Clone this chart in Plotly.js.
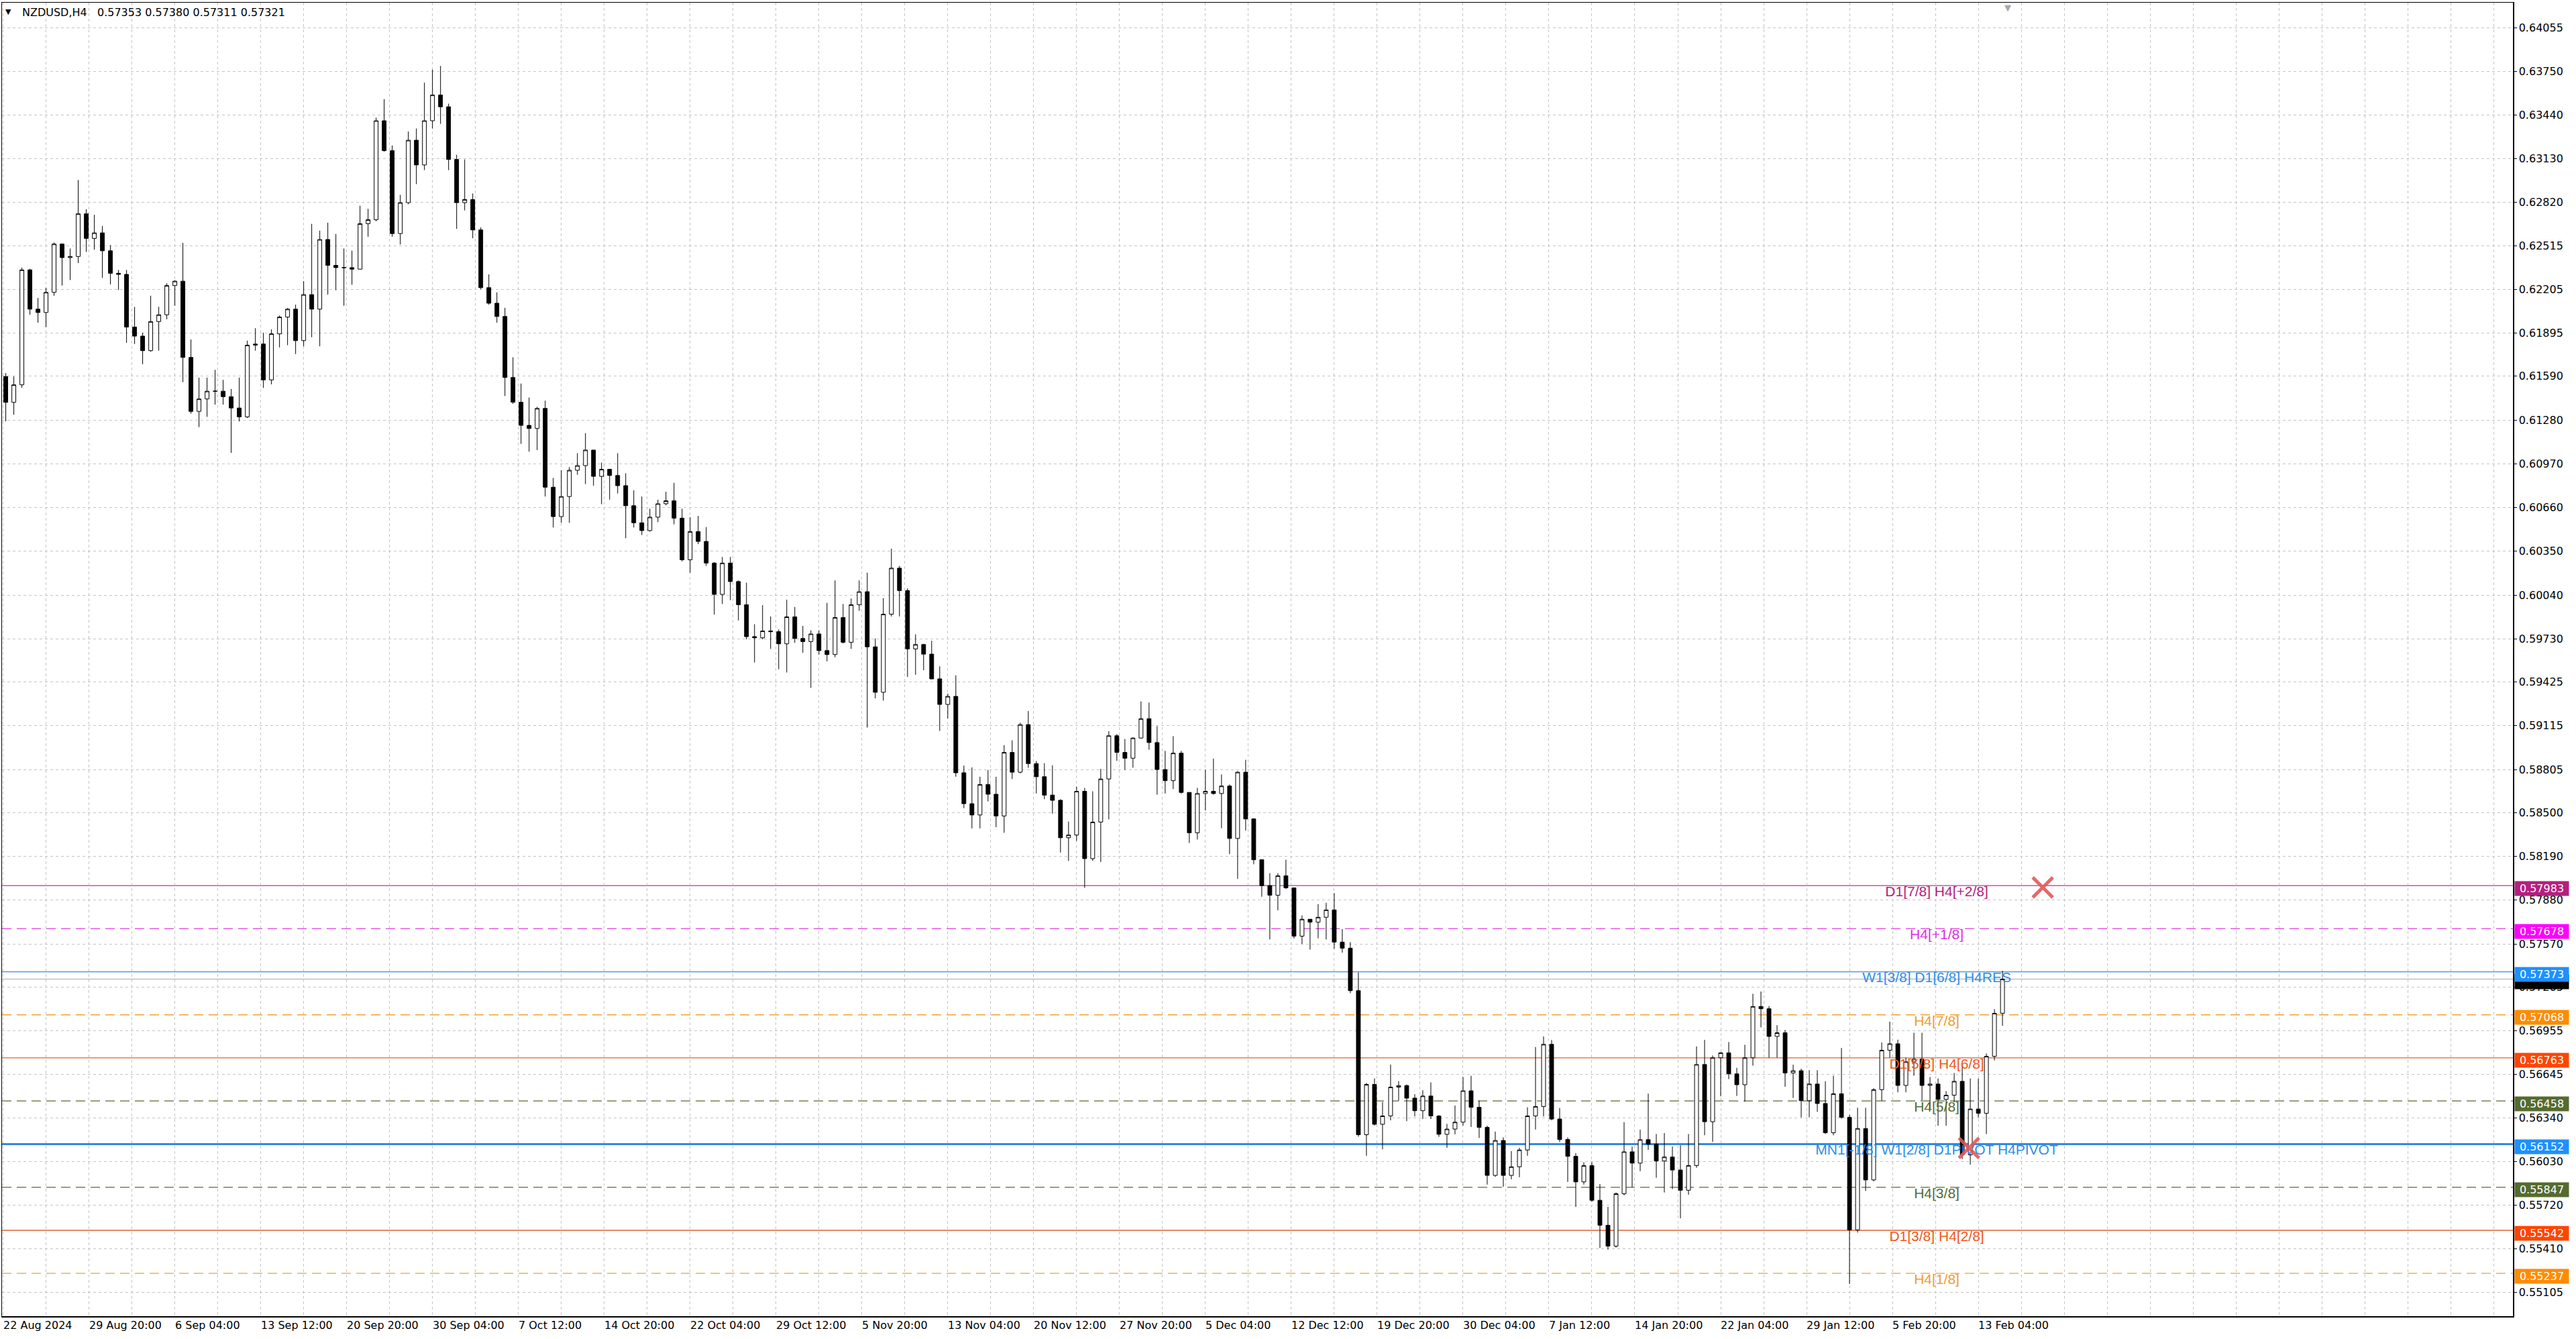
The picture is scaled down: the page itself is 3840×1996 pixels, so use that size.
<!DOCTYPE html>
<html>
<head>
<meta charset="utf-8">
<script src="https://cdn.plot.ly/plotly-3.0.1.min.js"></script>
<style>
  html, body { margin: 0; padding: 0; background: #ffffff; }
  #chart { width: 3840px; height: 1996px; }
</style>
</head>
<body>
<div id="chart"></div>
<script>
// ---------------- DATA (NZDUSD, H4, each candle = 3 consecutive H4 bars) ----------------
const symbolTitle = "NZDUSD,H4\u00a0\u00a0 0.57353 0.57380 0.57311 0.57321";
const firstOpen = 0.61588;
const closes = [
0.61405,0.61529,0.62343,0.62065,0.62041,0.62184,0.62526,0.62430,0.62438,0.62740,
0.62566,0.62605,0.62478,0.62319,0.62311,0.61938,0.61874,0.61771,0.61977,0.62025,
0.62232,0.62263,0.61723,0.61341,0.61429,0.61484,0.61484,0.61445,0.61365,0.61302,
0.61810,0.61818,0.61564,0.61890,0.62009,0.62065,0.61842,0.62168,0.62065,0.62558,
0.62375,0.62359,0.62359,0.62348,0.62670,0.62698,0.63399,0.63187,0.62600,0.62819,
0.63261,0.63086,0.63399,0.63581,0.63498,0.63125,0.62819,0.62841,0.62626,0.62217,
0.62107,0.62013,0.61581,0.61406,0.61242,0.61220,0.61362,0.60804,0.60596,0.60738,
0.60924,0.60957,0.61067,0.60881,0.60931,0.60887,0.60815,0.60673,0.60552,0.60497,
0.60592,0.60687,0.60708,0.60585,0.60290,0.60490,0.60420,0.60267,0.60045,0.60267,
0.60136,0.59972,0.59746,0.59738,0.59786,0.59781,0.59695,0.59886,0.59733,0.59711,
0.59765,0.59647,0.59619,0.59881,0.59706,0.59972,0.60064,0.59674,0.59352,0.59905,
0.60231,0.60072,0.59659,0.59690,0.59622,0.59447,0.59266,0.59323,0.58782,0.58563,
0.58483,0.58699,0.58630,0.58476,0.58926,0.58786,0.59123,0.58847,0.58754,0.58624,
0.58587,0.58322,0.58341,0.58651,0.58174,0.58433,0.58738,0.59044,0.58926,0.58885,
0.59028,0.59165,0.58996,0.58805,0.58726,0.58921,0.58643,0.58357,0.58635,0.58651,
0.58635,0.58688,0.58317,0.58786,0.58455,0.58166,0.57983,0.57915,0.58052,0.57967,
0.57625,0.57745,0.57724,0.57759,0.57811,0.57583,0.57540,0.57239,0.56219,0.56575,
0.56293,0.56352,0.56556,0.56567,0.56478,0.56389,0.56493,0.56352,0.56222,0.56259,
0.56308,0.56530,0.56413,0.56271,0.55931,0.56178,0.55931,0.55992,0.56111,0.56352,
0.56419,0.56859,0.56330,0.56185,0.56066,0.55885,0.56000,0.55755,0.55578,0.55430,
0.55801,0.56098,0.56018,0.56184,0.56152,0.56033,0.56061,0.55969,0.55826,0.56001,
0.56716,0.56311,0.56764,0.56799,0.56650,0.56573,0.56764,0.57127,0.57111,0.56915,
0.56941,0.56656,0.56672,0.56460,0.56578,0.56440,0.56233,0.56509,0.56342,0.55545,
0.56263,0.55899,0.56538,0.56817,0.56863,0.56568,0.56735,0.56754,0.56568,0.56578,
0.56469,0.56499,0.56597,0.56076,0.56401,0.56371,0.56774,0.57079,0.57321];
const highs = [
0.61612,0.61588,0.62359,0.62350,0.62144,0.62216,0.62537,0.62530,0.62494,0.62979,
0.62772,0.62733,0.62653,0.62518,0.62343,0.62343,0.62081,0.61898,0.62160,0.62081,
0.62248,0.62270,0.62534,0.61850,0.61580,0.61580,0.61635,0.61564,0.61500,0.61580,
0.61842,0.61930,0.61898,0.61922,0.62020,0.62073,0.62097,0.62263,0.62669,0.62621,
0.62677,0.62597,0.62494,0.62479,0.62797,0.62775,0.63421,0.63552,0.63224,0.62874,
0.63323,0.63344,0.63669,0.63761,0.63787,0.63520,0.63158,0.63125,0.62884,0.62644,
0.62311,0.62184,0.62074,0.61724,0.61538,0.61439,0.61373,0.61417,0.60870,0.60924,
0.60946,0.61045,0.61187,0.61045,0.60979,0.60924,0.61045,0.60903,0.60782,0.60738,
0.60652,0.60716,0.60772,0.60835,0.60652,0.60592,0.60601,0.60522,0.60274,0.60310,
0.60310,0.60144,0.60128,0.59834,0.59969,0.59889,0.59797,0.60008,0.59956,0.59822,
0.59791,0.59791,0.59985,0.60144,0.59977,0.60016,0.60144,0.60199,0.59733,0.60019,
0.60369,0.60247,0.60088,0.59762,0.59695,0.59717,0.59536,0.59342,0.59472,0.58833,
0.58820,0.58754,0.58802,0.58754,0.58977,0.59012,0.59136,0.59219,0.58866,0.58850,
0.58834,0.58595,0.58436,0.58683,0.58675,0.58651,0.58810,0.59076,0.59056,0.59021,
0.59033,0.59287,0.59279,0.59112,0.58937,0.59041,0.58937,0.58643,0.58675,0.58802,
0.58882,0.58770,0.58699,0.58794,0.58874,0.58460,0.58166,0.58071,0.58071,0.58166,
0.57967,0.57772,0.57745,0.57852,0.57861,0.57930,0.57675,0.57583,0.57369,0.56586,
0.56618,0.56451,0.56716,0.56599,0.56575,0.56506,0.56534,0.56590,0.56358,0.56296,
0.56426,0.56627,0.56636,0.56460,0.56283,0.56241,0.56200,0.56103,0.56126,0.56413,
0.56840,0.56915,0.56890,0.56408,0.56200,0.56089,0.56024,0.56024,0.55870,0.55708,
0.55810,0.56308,0.56135,0.56255,0.56510,0.56224,0.56231,0.56136,0.56144,0.56224,
0.56844,0.56891,0.56780,0.56804,0.56875,0.56693,0.56856,0.57217,0.57233,0.57130,
0.56995,0.56960,0.56715,0.56686,0.56676,0.56676,0.56597,0.56637,0.56833,0.56360,
0.56410,0.56410,0.56548,0.56872,0.57020,0.56892,0.56764,0.56941,0.56941,0.56627,
0.56617,0.56528,0.56656,0.56705,0.56617,0.56617,0.56794,0.57108,0.57380];
const lows = [
0.61270,0.61317,0.61508,0.62025,0.61969,0.61938,0.62160,0.62232,0.62271,0.62391,
0.62470,0.62486,0.62287,0.62240,0.62200,0.61826,0.61818,0.61675,0.61763,0.61771,
0.61993,0.62089,0.61548,0.61325,0.61230,0.61302,0.61389,0.61389,0.61047,0.61270,
0.61294,0.61771,0.61508,0.61532,0.61794,0.61810,0.61747,0.61802,0.61866,0.61802,
0.62168,0.62200,0.62089,0.62238,0.62348,0.62578,0.62687,0.63180,0.62578,0.62523,
0.62808,0.62950,0.63049,0.63344,0.63377,0.63049,0.62633,0.62764,0.62567,0.62206,
0.62096,0.61969,0.61450,0.61395,0.61111,0.61056,0.61067,0.60738,0.60519,0.60552,
0.60552,0.60892,0.60826,0.60815,0.60684,0.60716,0.60760,0.60443,0.60519,0.60465,
0.60490,0.60557,0.60676,0.60541,0.60279,0.60199,0.60401,0.60247,0.59902,0.59977,
0.60004,0.59861,0.59727,0.59563,0.59727,0.59659,0.59515,0.59492,0.59702,0.59632,
0.59383,0.59619,0.59571,0.59600,0.59698,0.59659,0.59929,0.59102,0.59309,0.59293,
0.59889,0.59889,0.59460,0.59476,0.59508,0.59444,0.59078,0.59167,0.58754,0.58531,
0.58388,0.58388,0.58579,0.58397,0.58357,0.58738,0.58778,0.58818,0.58635,0.58595,
0.58492,0.58217,0.58158,0.58300,0.57967,0.58158,0.58150,0.58452,0.58866,0.58802,
0.58818,0.59025,0.58945,0.58627,0.58635,0.58667,0.58635,0.58285,0.58309,0.58516,
0.58627,0.58389,0.58206,0.58031,0.58373,0.58134,0.57904,0.57602,0.57808,0.57959,
0.57609,0.57570,0.57530,0.57610,0.57601,0.57536,0.57508,0.57221,0.56205,0.56070,
0.56284,0.56116,0.56321,0.56460,0.56315,0.56348,0.56330,0.56330,0.56204,0.56126,
0.56222,0.56284,0.56274,0.56196,0.55866,0.55920,0.55851,0.55903,0.55918,0.56070,
0.56256,0.56348,0.56321,0.56167,0.55885,0.55708,0.55866,0.55745,0.55417,0.55406,
0.55420,0.55790,0.55847,0.55961,0.56112,0.55914,0.55810,0.55834,0.55627,0.55794,
0.55985,0.56215,0.56168,0.56491,0.56613,0.56494,0.56454,0.56708,0.56979,0.56764,
0.56764,0.56558,0.56479,0.56342,0.56342,0.56381,0.56224,0.56215,0.56332,0.55162,
0.55526,0.55821,0.55889,0.56460,0.56764,0.56519,0.56519,0.56637,0.56463,0.56401,
0.56283,0.56283,0.56450,0.56047,0.56007,0.56342,0.56224,0.56745,0.56990];

// Murrey-math / pivot levels
const levelValues = [0.57983, 0.57678, 0.57373, 0.57068, 0.56763, 0.56458, 0.56152, 0.55847, 0.55542, 0.55237];
const levelNames  = ["D1[7/8] H4[+2/8]", "H4[+1/8]", "W1[3/8] D1[6/8] H4RES", "H4[7/8]", "D1[5/8] H4[6/8]",
                     "H4[5/8]", "MN1[-1/8] W1[2/8] D1PIVOT H4PIVOT", "H4[3/8]", "D1[3/8] H4[2/8]", "H4[1/8]"];
const levelTextColors = ["#b3217e", "#e02be0", "#2f8de6", "#f29a2e", "#f0561c", "#556b2f", "#2f8de6", "#556b2f", "#f0561c", "#f29a2e"];
const levelLineColors = ["#b8359a", "#e040e0", "#3f8be0", "#f0a030", "#e0602e", "#556b2f", "#2e8ae6", "#556b2f", "#e0602e", "#f0a030"];
const levelTagColors  = ["#b5207e", "#ff00ff", "#1e90ff", "#ff8c00", "#ff4500", "#556b2f", "#1e90ff", "#556b2f", "#ff4500", "#ff8c00"];
const levelDashed     = [false, true, false, true, false, true, false, true, false, true];
const levelWidths     = [1.3, 1.3, 1.3, 1.3, 1.3, 1.3, 3, 1.3, 1.3, 1.3];
const levelLabelBar = 720.5;
const currentPrice = 0.57321;

// red cross marks
const crossBars = [760, 732.5];
const crossPrices = [0.57970, 0.56125];

// chart-shift marker position (bars)
const shiftMarkBar = 747;

// price scale and time scale labels
const priceTicks = [0.64055, 0.63750, 0.63440, 0.63130, 0.62820, 0.62515, 0.62205, 0.61895, 0.61590, 0.61280,
                    0.60970, 0.60660, 0.60350, 0.60040, 0.59730, 0.59425, 0.59115, 0.58805, 0.58500, 0.58190,
                    0.57880, 0.57570, 0.57265, 0.56955, 0.56645, 0.56340, 0.56030, 0.55720, 0.55410, 0.55105];
const timeLabels = ["22 Aug 2024", "29 Aug 20:00", "6 Sep 04:00", "13 Sep 12:00", "20 Sep 20:00", "30 Sep 04:00",
                    "7 Oct 12:00", "14 Oct 20:00", "22 Oct 04:00", "29 Oct 12:00", "5 Nov 20:00", "13 Nov 04:00",
                    "20 Nov 12:00", "27 Nov 20:00", "5 Dec 04:00", "12 Dec 12:00", "19 Dec 20:00", "30 Dec 04:00",
                    "7 Jan 12:00", "14 Jan 20:00", "22 Jan 04:00", "29 Jan 12:00", "5 Feb 20:00", "13 Feb 04:00"];
const barsPerGroup = 3;      // H4 bars per drawn candle
const barsPerLabel = 32;     // H4 bars between time labels
const barsPerGrid = 16;      // H4 bars between vertical grid lines

// ---------------- BUILD ----------------
const opens = closes.map((c, i) => i === 0 ? firstOpen : closes[i - 1]);
const xs = closes.map((c, i) => barsPerGroup * i + 1);

const gridBars = [];
for (let b = 0; b <= 930; b += barsPerGrid) gridBars.push(b);

const FONT = "DejaVu Sans, Verdana, sans-serif";

const traces = [
  { // level captions (under the candles)
    type: "scatter", mode: "text",
    x: levelValues.map(() => levelLabelBar), y: levelValues,
    text: levelNames, textposition: "bottom center",
    textfont: { family: "Liberation Sans, Arial, sans-serif", size: 21, color: levelTextColors },
    hoverinfo: "skip", cliponaxis: false, showlegend: false
  },
  {
    type: "candlestick", x: xs, open: opens, high: highs, low: lows, close: closes,
    increasing: { line: { color: "#000000", width: 1 }, fillcolor: "#ffffff" },
    decreasing: { line: { color: "#000000", width: 1 }, fillcolor: "#000000" },
    whiskerwidth: 0, hoverinfo: "skip", showlegend: false
  },
  {
    type: "scatter", mode: "markers", x: crossBars, y: crossPrices,
    marker: { symbol: "x-thin", size: 30, color: "rgba(228,88,88,0.9)", line: { width: 5, color: "rgba(228,88,88,0.9)" } },
    hoverinfo: "skip", showlegend: false
  }
];

const shapes = [];
shapes.push({ type: "line", xref: "paper", x0: 0, x1: 1, yref: "y", y0: currentPrice, y1: currentPrice,
              line: { color: "#c0c0c0", width: 1.3 }, layer: "between" });
levelValues.forEach((v, i) => {
  shapes.push({ type: "line", xref: "paper", x0: 0, x1: 1, yref: "y", y0: v, y1: v,
                line: { color: levelLineColors[i], width: levelWidths[i], dash: levelDashed[i] ? "14px,8px" : "solid" },
                layer: "between" });
});

const annotations = [];
// title
annotations.push({ xref: "paper", yref: "paper", x: 0, y: 1, xanchor: "left", yanchor: "top", xshift: 3, yshift: -5,
                   text: "\u25BC", showarrow: false, font: { family: FONT, size: 11, color: "#000" } });
annotations.push({ xref: "paper", yref: "paper", x: 0, y: 1, xanchor: "left", yanchor: "top", xshift: 28, yshift: -3,
                   text: symbolTitle, showarrow: false, font: { family: FONT, size: 16, color: "#000" } });
// chart shift marker
annotations.push({ xref: "x", yref: "paper", x: shiftMarkBar, y: 1, xanchor: "center", yanchor: "top", yshift: 2,
                   text: "\u25BC", showarrow: false, font: { family: FONT, size: 13, color: "#a8a8a8" } });
// time labels
timeLabels.forEach((t, i) => {
  annotations.push({ xref: "x", yref: "paper", x: i * barsPerLabel, y: 0, xanchor: "left", yanchor: "top",
                     xshift: -2, yshift: -2, text: t, showarrow: false, font: { family: FONT, size: 16, color: "#000" } });
});
// current price tag (mostly hidden behind the next tag)
annotations.push({ xref: "paper", yref: "y", x: 1, y: currentPrice, xanchor: "left", yanchor: "middle", xshift: 2, yshift: -4,
                   text: " ", showarrow: false, bgcolor: "#000000", width: 78, height: 19, borderpad: 1,
                   align: "center", font: { family: FONT, size: 16, color: "#ffffff" } });
// level price tags
levelValues.forEach((v, i) => {
  annotations.push({ xref: "paper", yref: "y", x: 1, y: v, xanchor: "left", yanchor: "middle", xshift: 2, yshift: -4,
                     text: v.toFixed(5), showarrow: false, bgcolor: levelTagColors[i], width: 78, height: 19, borderpad: 1,
                     align: "center", font: { family: FONT, size: 16, color: "#ffffff" } });
});

const layout = {
  width: 3840, height: 1996,
  margin: { l: 3, r: 94, t: 4, b: 34, pad: 0 },
  paper_bgcolor: "#ffffff", plot_bgcolor: "#ffffff",
  showlegend: false, dragmode: false, hovermode: false,
  xaxis: {
    range: [-0.4, 935.2], tickvals: gridBars, showticklabels: false, ticks: "",
    showgrid: true, gridcolor: "#c4c4c4", gridwidth: 1, griddash: "4px,4px",
    zeroline: false, showline: true, mirror: true, linecolor: "#000000", linewidth: 1.5,
    rangeslider: { visible: false }, fixedrange: true
  },
  yaxis: {
    side: "right", range: [0.54934, 0.64235],
    tickvals: priceTicks, ticktext: priceTicks.map(v => v.toFixed(5)),
    tickfont: { family: FONT, size: 16, color: "#000000" },
    ticks: "outside", ticklen: 4, tickcolor: "#000000",
    showgrid: true, gridcolor: "#c4c4c4", gridwidth: 1, griddash: "4px,4px",
    zeroline: false, showline: true, mirror: true, linecolor: "#000000", linewidth: 1.5, fixedrange: true
  },
  shapes: shapes,
  annotations: annotations
};

Plotly.newPlot("chart", traces, layout, { staticPlot: true, displayModeBar: false });
</script>
</body>
</html>
